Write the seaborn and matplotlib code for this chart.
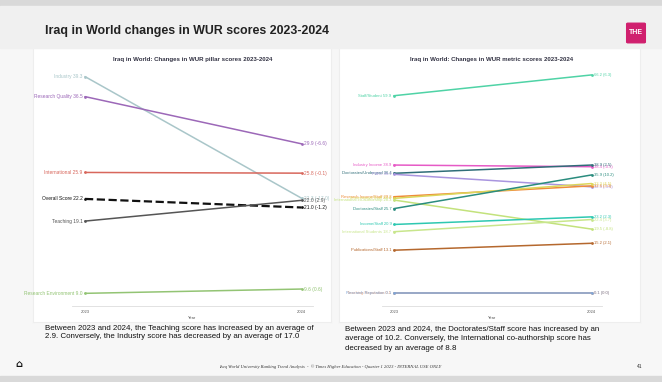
import seaborn as sns
import matplotlib.pyplot as plt
import matplotlib.patches as mpatches
import pandas as pd

# pillar scores (left chart)
pillars = ["Industry", "Research Quality", "International", "Overall Score", "Teaching", "Research Environment"]
pillar_2023 = [39.3, 36.5, 25.9, 22.2, 19.1, 9.0]
pillar_2024 = [22.3, 29.9, 25.8, 21.0, 22.0, 9.6]
pillar_colors = ["#a9c6c9", "#9c68b8", "#d8675c", "#111111", "#555555", "#93c474"]

# metric scores (right chart)
metrics = ["Staff/Student", "Industry Income", "Doctorates/Undergrad", "FWCI",
           "Research Income/Staff", "International Staff", "International co-authorship",
           "Doctorates/Staff", "Income/Staff", "International Students",
           "Publications/Staff", "Teaching Reputation", "Research Reputation"]
metric_2023 = [59.9, 38.9, 36.4, 36.1, 29.3, 28.8, 28.3, 25.7, 20.9, 18.7, 13.1, 0.1, 0.1]
metric_2024 = [66.2, 38.4, 38.9, 32.3, 32.6, 33.3, 19.5, 35.9, 23.2, 22.4, 15.2, 0.1, 0.1]
metric_colors = ["#4fd3a6", "#e65ac6", "#2f6d78", "#a995df", "#ee8c3a", "#dcd65a", "#c3e27c",
                 "#2a8c7e", "#2ec8b1", "#c8e68c", "#b5682e", "#f0a070", "#7fa6d8"]

years = [2023, 2024]

W, H = 662, 382
fig = plt.figure(figsize=(6.62, 3.82), dpi=100)
fig.patch.set_facecolor("#f7f7f7")
sns.set_style("white")
plt.rcParams["font.family"] = ["Liberation Sans", "DejaVu Sans"]


def box(x0, y0, x1, y1):
    return [x0 / W, 1 - y1 / H, (x1 - x0) / W, (y1 - y0) / H]


# slide decoration
fig.add_artist(mpatches.Rectangle((0, 1 - 6 / H), 1, 6 / H, transform=fig.transFigure, color="#d9d9d9"))
fig.add_artist(mpatches.Rectangle((0, 1 - 48 / H), 1, 42 / H, transform=fig.transFigure, color="#f0f0f0"))
fig.add_artist(mpatches.Rectangle((0, 0), 1, 6 / H, transform=fig.transFigure, color="#d9d9d9"))
fig.text(45 / W, 1 - 31 / H, "Iraq in World changes in WUR scores 2023-2024", fontsize=8.9,
         fontweight="bold", color="#222222", va="center", ha="left")
fig.add_artist(mpatches.FancyBboxPatch((628 / W, 1 - 42 / H), 16 / W, 18 / H, transform=fig.transFigure,
                                       boxstyle="round,pad=0.002", color="#d0206e"))
fig.text(636 / W, 1 - 33 / H, "THE", fontsize=5, fontweight="bold", color="white", ha="center", va="center")


def slope_chart(rect, panel_rect, title, names, v23, v24, colors, ylim, fs, dashed=None):
    panel = fig.add_axes(box(*panel_rect))
    panel.set_facecolor("white")
    panel.set_xticks([])
    panel.set_yticks([])
    for s in panel.spines.values():
        s.set_color("#eeeeee")
    panel.set_zorder(0)

    ax = fig.add_axes(box(*rect))
    ax.set_zorder(1)
    ax.patch.set_alpha(0)
    for name, a, b, c in zip(names, v23, v24, colors):
        df = pd.DataFrame({"Year": years, "Score": [a, b]})
        ls = "--" if name == dashed else "-"
        lw = 1.6 if name == dashed else 1.1
        sns.lineplot(data=df, x="Year", y="Score", ax=ax, color=c, linewidth=lw, linestyle=ls,
                     marker="o", markersize=2, markeredgewidth=0)
        t1 = ax.text(2023 - 0.012, a, f"{name} {a:.1f}", ha="right", va="center", fontsize=fs, color=c)
        t2 = ax.text(2024 + 0.012, b, f"{b:.1f} ({b - a:.1f})", ha="left", va="center", fontsize=fs, color=c)
        t1.set_clip_path(panel.patch)
        t2.set_clip_path(panel.patch)
    ax.set_xlim(2022.94, 2024.053)
    ax.set_ylim(*ylim)
    ax.set_xticks(years)
    ax.set_xticklabels(["2023", "2024"], fontsize=3, color="#555555")
    ax.tick_params(axis="x", length=1.5, width=0.4, color="#aaaaaa", pad=1.5)
    ax.set_yticks([])
    ax.set_ylabel("")
    ax.set_xlabel("Year", fontsize=3, color="#555555", labelpad=1.5)
    sns.despine(ax=ax, left=True)
    ax.spines["bottom"].set_color("#dddddd")
    ax.spines["bottom"].set_linewidth(0.6)
    fig.text((rect[0] + rect[2]) / 2 / W, 1 - 60 / H, title, fontsize=4.4, fontweight="bold",
             color="#333344", ha="center", va="center")


slope_chart((72, 68, 313, 306), (33, 48, 331, 322),
            "Iraq in World: Changes in WUR pillar scores 2023-2024",
            pillars, pillar_2023, pillar_2024, pillar_colors, (7.23, 40.5), 3.5, dashed="Overall Score")
slope_chart((382, 68, 602, 306), (339, 48, 640, 322),
            "Iraq in World: Changes in WUR metric scores 2023-2024",
            metrics, metric_2023, metric_2024, metric_colors, (-3.8, 68.3), 3.0)

fig.text(45 / W, 1 - 333 / H,
         "Between 2023 and 2024, the Teaching score has increased by an average of\n"
         "2.9. Conversely, the Industry score has decreased by an average of 17.0",
         fontsize=5.7, color="#111111", ha="left", va="center", linespacing=1.2)
fig.text(345 / W, 1 - 339 / H,
         "Between 2023 and 2024, the Doctorates/Staff score has increased by an\n"
         "average of 10.2. Conversely, the International co-authorship score has\n"
         "decreased by an average of 8.8",
         fontsize=5.7, color="#111111", ha="left", va="center", linespacing=1.55)
fig.text(330 / W, 1 - 367 / H,
         "Iraq World University Ranking Trend Analysis  -  \u00a9 Times Higher Education - Quarter 1 2023 - INTERNAL USE ONLY",
         fontsize=3.3, style="italic", family="Liberation Serif", color="#333333", ha="center", va="center")
fig.text(640 / W, 1 - 367 / H, "41", fontsize=3.5, color="#333333", ha="center", va="center")
fig.text(19 / W, 1 - 364 / H, "\u2302", fontsize=7, fontweight="bold", color="#111111", ha="center", va="center",
         family="DejaVu Sans")

fig.savefig("out.png", dpi=100, facecolor=fig.get_facecolor())
